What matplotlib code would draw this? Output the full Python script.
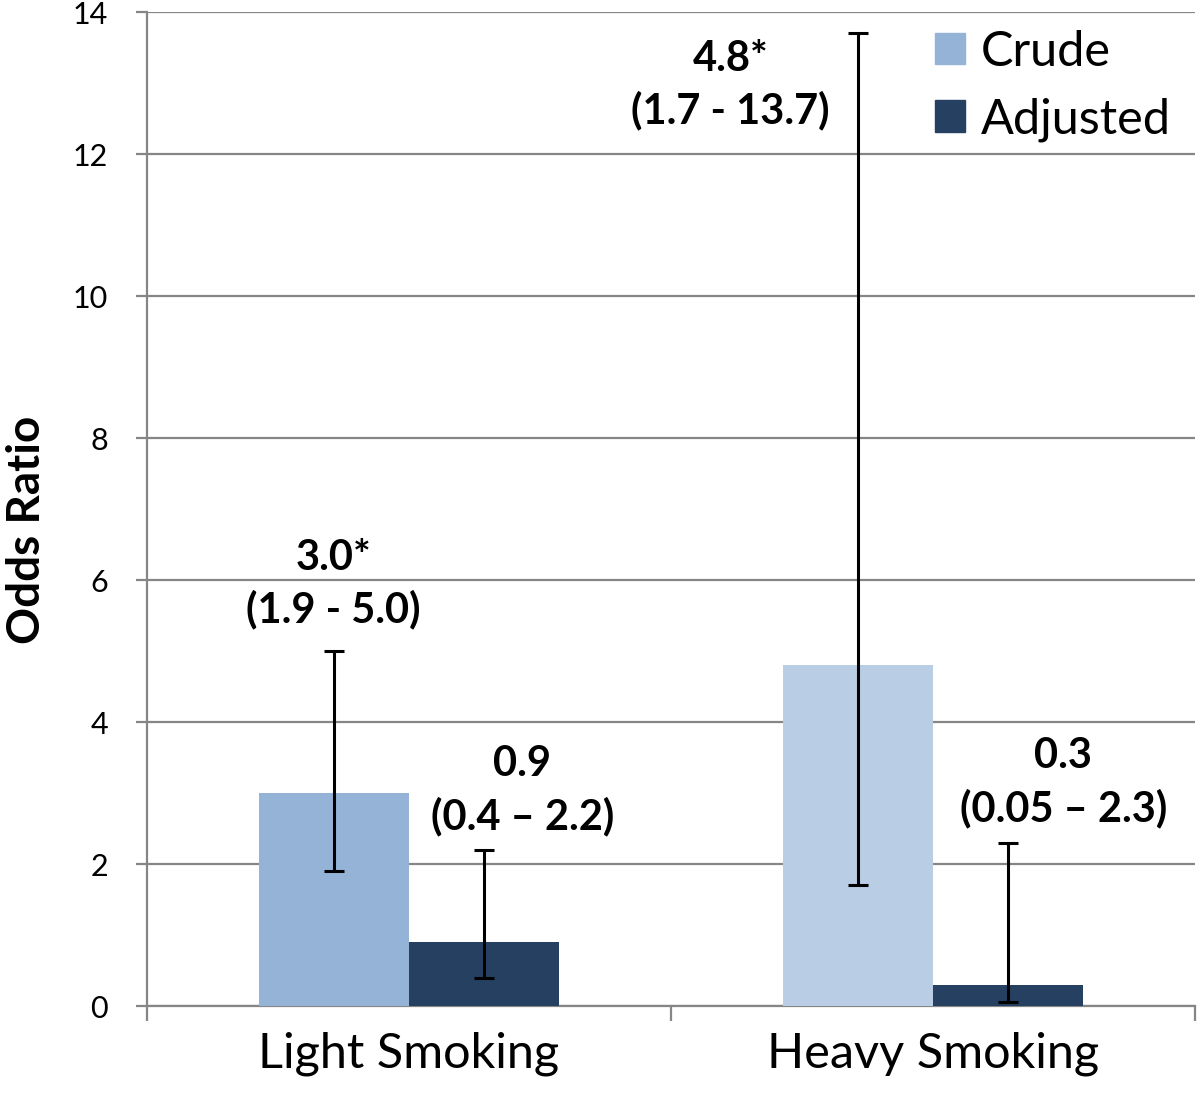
import matplotlib
matplotlib.use("Agg")
import matplotlib.pyplot as plt
import numpy as np
from matplotlib.patches import Patch

plt.rcParams['font.family'] = ['Lato', 'DejaVu Sans']

categories = ["Light Smoking", "Heavy Smoking"]
crude = [3.0, 4.8]
crude_lo = [1.9, 1.7]
crude_hi = [5.0, 13.7]
adjusted = [0.9, 0.3]
adj_lo = [0.4, 0.05]
adj_hi = [2.2, 2.3]
crude_labels = ["3.0*\n(1.9 - 5.0)", "4.8*\n(1.7 - 13.7)"]
adj_labels = ["0.9\n(0.4 \u2013 2.2)", "0.3\n(0.05 \u2013 2.3)"]
yticks = [0, 2, 4, 6, 8, 10, 12, 14]

crude_colors = ["#95b3d7", "#b9cde5"]
adj_color = "#254061"
grid_color = "#868686"

fig = plt.figure(figsize=(12, 11.06), dpi=100)
ax = fig.add_axes([0.1225, 0.0904, 0.8735, 0.8986])

x = np.arange(len(categories))
w = 0.286

ax.bar(x - w/2, crude, w, color=crude_colors, zorder=3)
ax.bar(x + w/2, adjusted, w, color=adj_color, zorder=3)

ekw = dict(fmt='none', ecolor='black', elinewidth=2.2, capsize=7, capthick=2.2, zorder=4)
ax.errorbar(x - w/2, crude, yerr=[np.array(crude) - np.array(crude_lo), np.array(crude_hi) - np.array(crude)], **ekw)
ax.errorbar(x + w/2, adjusted, yerr=[np.array(adjusted) - np.array(adj_lo), np.array(adj_hi) - np.array(adjusted)], **ekw)

# annotation label positions (layout)
crude_lab_pos = [(-0.145, 5.94), (0.613, 12.97)]
adj_lab_pos = [(0.216, 3.03), (1.248, 3.15)]
for (px, py), t in zip(crude_lab_pos, crude_labels):
    ax.text(px, py, t, ha='center', va='center', fontsize=30, fontweight='bold',
            linespacing=1.4, zorder=5)
for (px, py), t in zip(adj_lab_pos, adj_labels):
    ax.text(px, py, t, ha='center', va='center', fontsize=30, fontweight='bold',
            linespacing=1.4, zorder=5)

ax.set_xlim(-0.5, 1.5)
ax.set_ylim(0, 14)
ax.set_yticks(yticks)
ax.set_yticklabels([str(v) for v in yticks], fontsize=22)
ax.yaxis.grid(True, color=grid_color, linewidth=1.6, zorder=0)
ax.set_axisbelow(True)

ax.set_xticks([-0.5, 0.5, 1.5])
ax.set_xticklabels([])
ax.set_xticks(x, minor=True)
ax.set_xticklabels(categories, minor=True, fontsize=35)
ax.tick_params(axis='x', which='minor', length=0, pad=18)
ax.tick_params(axis='x', which='major', length=11, width=1.6, color=grid_color, direction='out')
ax.tick_params(axis='y', length=8, width=1.6, color=grid_color, pad=20)

for s in ['top', 'right']:
    ax.spines[s].set_visible(False)
for s in ['left', 'bottom']:
    ax.spines[s].set_color(grid_color)
    ax.spines[s].set_linewidth(1.6)

ax.set_ylabel("Odds Ratio", fontsize=33, fontweight='bold')
ax.yaxis.set_label_coords(-0.0945, 0.479)

handles = [Patch(color=crude_colors[0], label="Crude"), Patch(color=adj_color, label="Adjusted")]
leg = ax.legend(handles=handles, loc='upper right', bbox_to_anchor=(0.986, 0.992), fontsize=35,
                frameon=True, fancybox=False, framealpha=1, edgecolor='white',
                handlelength=0.62, handleheight=0.62, handletextpad=0.32, labelspacing=0.48,
                borderpad=0.15, borderaxespad=0.05)
leg.get_frame().set_linewidth(0)
leg.set_zorder(6)

fig.savefig("out.png", dpi=100, facecolor='white')
